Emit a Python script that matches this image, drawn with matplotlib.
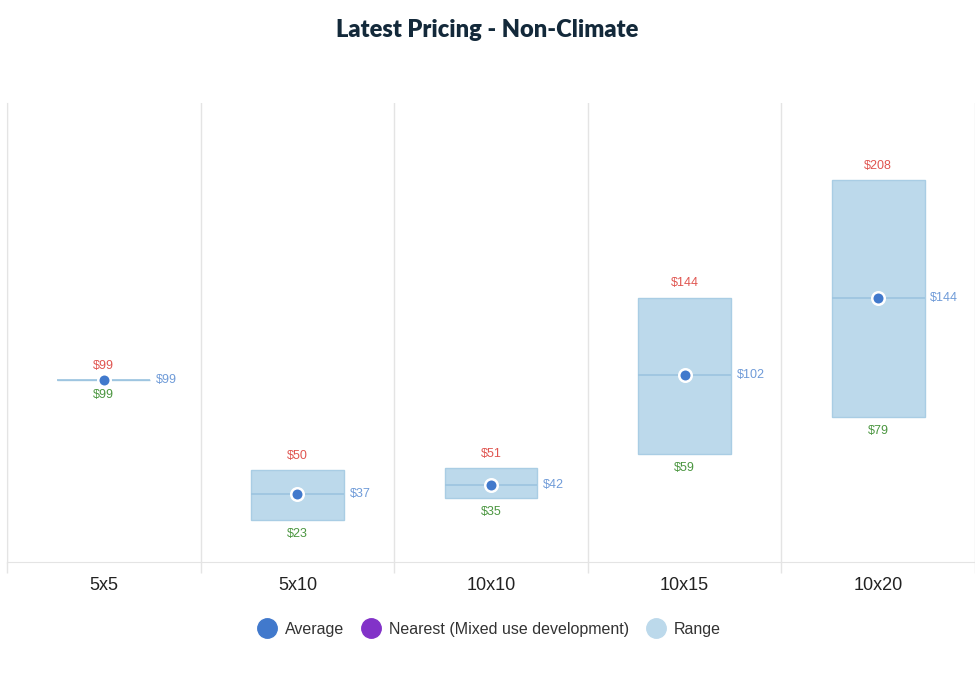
import numpy as np
import matplotlib
matplotlib.use("Agg")
from matplotlib import pyplot as plt
from matplotlib.lines import Line2D

sizes = ["5x5", "5x10", "10x10", "10x15", "10x20"]
low = [99, 23, 35, 59, 79]
high = [99, 50, 51, 144, 208]
average = [99, 37, 42, 102, 144]

range_color = "#bcd9eb"
avg_color = "#4179cc"
red = "#e05550"
green = "#4b9640"
blue_lbl = "#6f9bd8"
grid_color = "#e4e4e4"

plt.rcParams["font.family"] = ["Liberation Sans", "DejaVu Sans"]

fig = plt.figure(figsize=(9.75, 6.75), dpi=100)
ax = fig.add_axes([0.0072, 0.1674, 0.9928, 0.68])

x = np.arange(len(sizes))
w = 0.48
heights = [h - l for h, l in zip(high, low)]
ax.bar(x, heights, bottom=low, width=w, color=range_color,
       edgecolor="#a9cde4", linewidth=1, zorder=2)
ax.hlines(average, x - w / 2, x + w / 2, color="#9cc4e0", linewidth=1.2, zorder=3)
ax.plot(x, average, "o", color=avg_color, markersize=9,
        markeredgecolor="white", markeredgewidth=1.8, zorder=4, linestyle="none")

for xi, lo, hi, av in zip(x, low, high, average):
    ax.annotate(f"${hi}", (xi, hi), xytext=(0, 6), textcoords="offset points",
                ha="center", va="bottom", color=red, fontsize=9)
    ax.annotate(f"${lo}", (xi, lo), xytext=(0, -6), textcoords="offset points",
                ha="center", va="top", color=green, fontsize=9)
    ax.annotate(f"${av}", (xi + w / 2, av), xytext=(4, 0), textcoords="offset points",
                ha="left", va="center", color=blue_lbl, fontsize=9)

ax.set_xlim(-0.5, len(sizes) - 0.5)
ax.set_ylim(0, 250)
ax.set_yticks([])
ax.set_xticks(x)
ax.set_xticklabels(sizes, fontsize=13, color="#222222")
ax.tick_params(axis="x", which="major", length=0, pad=11)
ax.set_xticks(np.arange(-0.5, len(sizes), 1), minor=True)
ax.tick_params(axis="x", which="minor", length=8, color=grid_color, width=1)
ax.grid(axis="x", which="minor", color=grid_color, linewidth=1, zorder=0)
for side in ["top", "right"]:
    ax.spines[side].set_visible(False)
ax.spines["left"].set_color(grid_color)
ax.spines["bottom"].set_color(grid_color)

fig.suptitle("Latest Pricing - Non-Climate", x=0.5, y=0.972, fontsize=17,
             fontweight="heavy", color="#13293a", family=["Lato", "DejaVu Sans"])

handles = [
    Line2D([], [], marker="o", linestyle="none", markersize=14, color=avg_color, label="Average"),
    Line2D([], [], marker="o", linestyle="none", markersize=14, color="#8232c8",
           label="Nearest (Mixed use development)"),
    Line2D([], [], marker="o", linestyle="none", markersize=14, color=range_color, label="Range"),
]
fig.legend(handles=handles, loc="center", bbox_to_anchor=(0.5, 0.068), ncol=3,
           frameon=False, fontsize=11.5, handlelength=1.6, handletextpad=0.3,
           columnspacing=0.9, labelcolor="#333333")

fig.savefig("out.png", dpi=100, facecolor="white")
